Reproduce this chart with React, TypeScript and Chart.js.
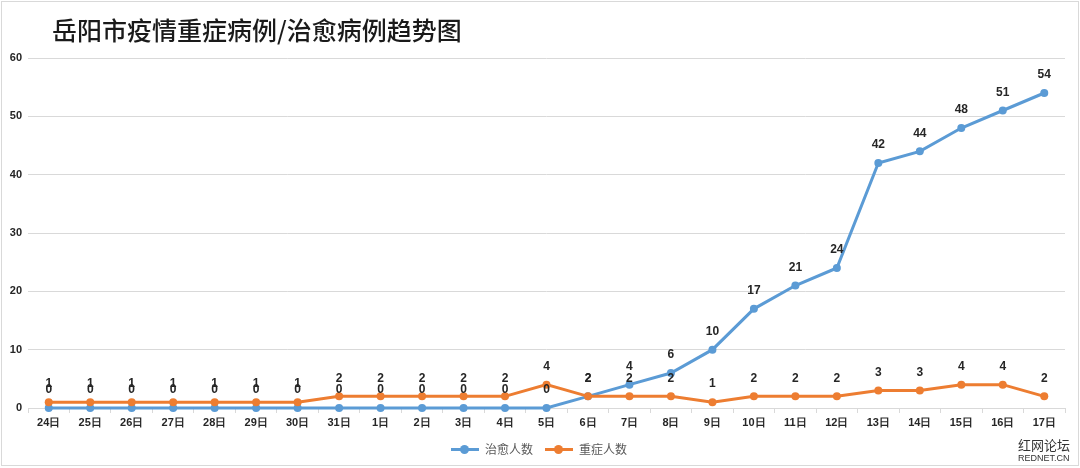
import React, { useEffect, useRef } from "react";
import { Chart, registerables } from "chart.js";

Chart.register(...registerables);

const categories = [
  "24日", "25日", "26日", "27日", "28日", "29日", "30日", "31日",
  "1日", "2日", "3日", "4日", "5日", "6日", "7日", "8日", "9日",
  "10日", "11日", "12日", "13日", "14日", "15日", "16日", "17日",
];
const curedValues = [0, 0, 0, 0, 0, 0, 0, 0, 0, 0, 0, 0, 0, 2, 4, 6, 10, 17, 21, 24, 42, 44, 48, 51, 54];
const severeValues = [1, 1, 1, 1, 1, 1, 1, 2, 2, 2, 2, 2, 4, 2, 2, 2, 1, 2, 2, 2, 3, 3, 4, 4, 2];
const yTicks = [0, 10, 20, 30, 40, 50, 60];

const BLUE = "#5B9BD5";
const ORANGE = "#ED7D31";

const labelPlugin = {
  id: "pointLabels",
  afterDatasetsDraw(chart: any) {
    const ctx = chart.ctx;
    ctx.save();
    ctx.font = "bold 12px 'Liberation Sans', Arial, sans-serif";
    ctx.fillStyle = "#262626";
    ctx.textAlign = "center";
    ctx.textBaseline = "middle";
    chart.data.datasets.forEach((ds: any, i: number) => {
      const meta = chart.getDatasetMeta(i);
      meta.data.forEach((pt: any, j: number) => {
        ctx.fillText(String(ds.data[j]), pt.x, pt.y - 18);
      });
    });
    ctx.restore();
  },
};

export default function App() {
  const ref = useRef<HTMLCanvasElement | null>(null);
  useEffect(() => {
    document.body.style.margin = "0";
    const chart = new Chart(ref.current!, {
      type: "line",
      data: {
        labels: categories,
        datasets: [
          {
            label: "治愈人数",
            data: curedValues,
            borderColor: BLUE,
            backgroundColor: BLUE,
            borderWidth: 3,
            pointRadius: 4,
            pointBorderWidth: 0,
            pointBackgroundColor: BLUE,
            tension: 0,
            order: 1,
            clip: false,
          },
          {
            label: "重症人数",
            data: severeValues,
            borderColor: ORANGE,
            backgroundColor: ORANGE,
            borderWidth: 3,
            pointRadius: 4,
            pointBorderWidth: 0,
            pointBackgroundColor: ORANGE,
            tension: 0,
            order: 0,
            clip: false,
          },
        ],
      },
      options: {
        animation: false,
        responsive: false,
        maintainAspectRatio: false,
        layout: { padding: { top: 58, right: 15, left: 0, bottom: 0 } },
        plugins: { legend: { display: false }, tooltip: { enabled: false }, title: { display: false } },
        scales: {
          x: {
            offset: true,
            grid: { offset: true, drawOnChartArea: false, drawTicks: true, tickLength: 5, color: "#d9d9d9" },
            border: { color: "#d9d9d9" },
            ticks: {
              padding: 3,
              color: "#262626",
              font: { family: "'Liberation Sans', Arial, sans-serif", weight: "bold", size: 11 },
              maxRotation: 0,
              autoSkip: false,
            },
            afterFit: (s: any) => { s.height = 60; },
          },
          y: {
            min: 0,
            max: 60,
            afterBuildTicks: (s: any) => { s.ticks = yTicks.map((v) => ({ value: v })); },
            grid: { color: "#d9d9d9", drawTicks: false },
            border: { display: false },
            ticks: {
              padding: 6,
              color: "#262626",
              font: { family: "'Liberation Sans', Arial, sans-serif", weight: "bold", size: 11 },
            },
            afterFit: (s: any) => { s.width = 28; },
          },
        },
      },
      plugins: [labelPlugin],
    });
    return () => chart.destroy();
  }, []);

  const legendItem = (color: string, text: string) => (
    <div style={{ display: "flex", alignItems: "center", marginRight: 12 }}>
      <div style={{ position: "relative", width: 28, height: 10, marginRight: 6 }}>
        <div style={{ position: "absolute", left: 0, top: 4, width: 28, height: 3, background: color }} />
        <div style={{ position: "absolute", left: 9, top: 1, width: 9, height: 9, borderRadius: "50%", background: color }} />
      </div>
      <span>{text}</span>
    </div>
  );

  return (
    <div style={{ position: "fixed", left: 0, top: 0, width: 1080, height: 468, background: "#fff", overflow: "hidden" }}>
      <canvas ref={ref} width={1080} height={468} style={{ position: "absolute", left: 0, top: 0, width: 1080, height: 468 }} />
      <div style={{ position: "absolute", left: 1, top: 1, width: 1076, height: 463, border: "1px solid #d9d9d9", pointerEvents: "none" }} />
      <div style={{ position: "absolute", left: 52, top: 13, fontFamily: "'Noto Sans CJK SC', sans-serif", fontSize: 25, fontWeight: 500, color: "#1a1a1a", lineHeight: "32px", whiteSpace: "nowrap" }}>
        岳阳市疫情重症病例/治愈病例趋势图
      </div>
      <div style={{ position: "absolute", left: 0, width: 1080, top: 440, display: "flex", justifyContent: "center", fontFamily: "'Noto Sans CJK SC', sans-serif", fontSize: 12, color: "#595959", lineHeight: "18px" }}>
        <div style={{ display: "flex", marginLeft: 10 }}>
          {legendItem(BLUE, "治愈人数")}
          {legendItem(ORANGE, "重症人数")}
        </div>
      </div>
      <div style={{ position: "absolute", left: 1018, top: 437, fontFamily: "'Noto Sans CJK SC', sans-serif", color: "#333", whiteSpace: "nowrap" }}>
        <div style={{ fontSize: 13, lineHeight: "16px" }}>红网论坛</div>
        <div style={{ fontSize: 9, lineHeight: "11px", fontFamily: "'Liberation Sans', sans-serif" }}>REDNET.CN</div>
      </div>
    </div>
  );
}
